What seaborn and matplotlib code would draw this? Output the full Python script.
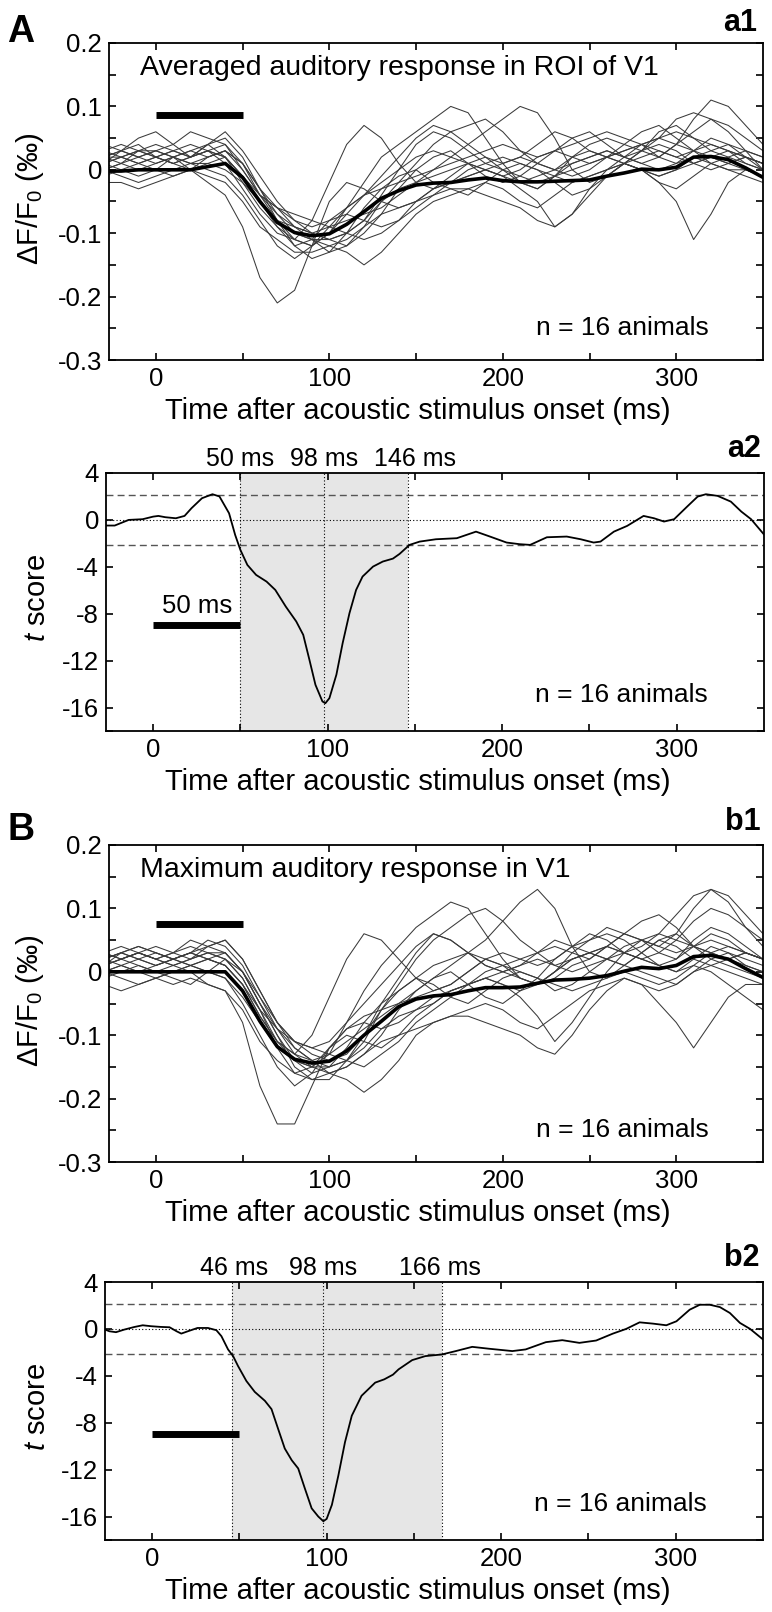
import numpy as np
import pandas as pd
import matplotlib
matplotlib.use('Agg')
import matplotlib.pyplot as plt
import matplotlib.transforms as mtransforms
import seaborn as sns

sns.set_theme(style='ticks', rc={'axes.edgecolor': 'black', 'text.color': 'black',
                                 'axes.labelcolor': 'black', 'xtick.color': 'black',
                                 'ytick.color': 'black'})
plt.rcParams['font.family'] = ['Liberation Sans', 'DejaVu Sans']
plt.rcParams['mathtext.fontset'] = 'custom'
plt.rcParams['mathtext.rm'] = 'Liberation Sans'
plt.rcParams['mathtext.it'] = 'Liberation Sans:italic'

########
# Data #
########
# time grid of the single-animal traces (ms)
time_ms = list(range(-30, 351, 10))

# a1: averaged response in ROI of V1, one trace per animal (dF/F0, per mille)
a1_traces = [
    [0.02, 0.03, 0.02, 0.01, 0.02, 0.03, 0.04, 0.02, -0.02, -0.06, -0.09, -0.11, -0.12, -0.10, -0.07, -0.04, -0.02, 0.00, 0.02, 0.03, 0.02, 0.01, 0.00, -0.01, 0.00, 0.02, 0.03, 0.02, 0.01, 0.02, 0.03, 0.04, 0.05, 0.06, 0.05, 0.03, 0.02, 0.01, 0.00],
    [0.01, 0.00, -0.01, 0.00, 0.02, 0.03, 0.02, 0.03, 0.01, -0.03, -0.08, -0.12, -0.14, -0.13, -0.10, -0.06, -0.03, -0.01, 0.00, -0.02, -0.03, -0.04, -0.02, 0.00, 0.01, 0.00, -0.02, -0.04, -0.03, -0.01, 0.01, 0.02, 0.03, 0.02, 0.01, 0.02, 0.03, 0.02, 0.01],
    [0.00, 0.01, 0.02, 0.03, 0.02, 0.00, -0.02, -0.04, -0.09, -0.17, -0.21, -0.19, -0.12, -0.05, -0.02, -0.03, -0.05, -0.06, -0.05, -0.03, -0.02, -0.01, 0.00, 0.01, 0.02, 0.01, 0.00, -0.01, 0.00, 0.02, 0.03, 0.04, 0.03, 0.02, 0.03, 0.04, 0.03, 0.02, 0.01],
    [0.03, 0.02, 0.01, 0.02, 0.03, 0.02, 0.03, 0.01, -0.03, -0.07, -0.10, -0.11, -0.08, -0.02, 0.04, 0.07, 0.05, 0.01, -0.02, -0.03, -0.01, 0.01, 0.02, 0.00, -0.02, -0.03, -0.01, 0.01, 0.02, 0.03, 0.02, 0.01, 0.00, 0.01, 0.03, 0.05, 0.04, 0.02, 0.00],
    [0.04, 0.03, 0.02, 0.03, 0.04, 0.06, 0.05, 0.04, 0.00, -0.04, -0.06, -0.08, -0.10, -0.11, -0.12, -0.09, -0.05, -0.02, 0.01, 0.04, 0.06, 0.07, 0.08, 0.06, 0.03, 0.01, 0.00, 0.01, 0.02, 0.03, 0.02, 0.01, 0.02, 0.04, 0.06, 0.08, 0.07, 0.05, 0.03],
    [-0.02, -0.02, -0.03, -0.02, -0.01, 0.00, -0.01, -0.02, -0.05, -0.09, -0.11, -0.13, -0.13, -0.12, -0.13, -0.15, -0.13, -0.10, -0.07, -0.05, -0.04, -0.03, -0.02, -0.03, -0.05, -0.06, -0.04, -0.02, -0.01, 0.00, 0.01, 0.00, -0.01, 0.00, 0.01, 0.02, 0.01, 0.00, -0.01],
    [0.01, 0.02, 0.03, 0.03, 0.02, 0.01, 0.02, 0.03, 0.00, -0.04, -0.08, -0.11, -0.12, -0.10, -0.06, -0.02, 0.02, 0.04, 0.06, 0.08, 0.10, 0.09, 0.05, 0.01, -0.02, -0.03, -0.01, 0.02, 0.04, 0.05, 0.04, 0.03, 0.02, 0.04, 0.08, 0.11, 0.10, 0.07, 0.04],
    [0.02, 0.03, 0.04, 0.02, 0.01, 0.02, 0.04, 0.05, 0.02, -0.03, -0.07, -0.10, -0.11, -0.12, -0.11, -0.09, -0.07, -0.06, -0.05, -0.04, -0.03, -0.03, -0.04, -0.05, -0.06, -0.08, -0.09, -0.07, -0.04, -0.01, 0.01, 0.00, -0.02, -0.05, -0.11, -0.07, -0.02, 0.00, -0.01],
    [0.00, 0.01, 0.03, 0.02, 0.01, 0.00, 0.01, 0.02, -0.01, -0.05, -0.08, -0.09, -0.10, -0.09, -0.08, -0.07, -0.06, -0.04, -0.02, 0.00, 0.02, 0.04, 0.06, 0.08, 0.10, 0.09, 0.05, 0.00, -0.02, -0.01, 0.01, 0.03, 0.04, 0.03, 0.01, 0.00, 0.01, 0.02, 0.01],
    [0.03, 0.04, 0.03, 0.02, 0.03, 0.04, 0.03, 0.02, -0.01, -0.05, -0.09, -0.12, -0.11, -0.08, -0.07, -0.08, -0.09, -0.08, -0.06, -0.04, -0.02, -0.01, 0.00, -0.01, -0.03, -0.05, -0.09, -0.07, -0.03, 0.00, 0.02, 0.04, 0.05, 0.04, 0.03, 0.02, 0.01, 0.02, 0.01],
    [-0.01, 0.00, 0.01, 0.02, 0.01, 0.02, 0.03, 0.04, 0.01, -0.04, -0.07, -0.09, -0.10, -0.11, -0.10, -0.08, -0.04, 0.00, 0.04, 0.06, 0.05, 0.03, 0.01, 0.00, -0.01, -0.02, -0.01, 0.00, 0.01, 0.02, 0.04, 0.06, 0.07, 0.05, 0.03, 0.01, 0.00, -0.01, -0.02],
    [0.02, 0.01, 0.00, 0.01, 0.02, 0.01, 0.00, -0.01, -0.04, -0.08, -0.12, -0.14, -0.12, -0.09, -0.06, -0.04, -0.03, -0.02, -0.01, 0.00, 0.01, 0.02, 0.03, 0.04, 0.03, 0.02, 0.03, 0.05, 0.06, 0.04, 0.02, 0.03, 0.05, 0.08, 0.09, 0.08, 0.06, 0.03, 0.00],
    [0.01, 0.03, 0.05, 0.06, 0.04, 0.02, 0.03, 0.02, -0.01, -0.04, -0.06, -0.07, -0.08, -0.09, -0.10, -0.11, -0.10, -0.08, -0.05, -0.03, -0.02, 0.00, 0.01, 0.02, 0.01, 0.00, -0.01, -0.02, -0.01, 0.00, 0.01, 0.00, -0.01, 0.00, 0.02, 0.03, 0.04, 0.03, 0.02],
    [0.00, -0.01, -0.02, -0.01, 0.00, 0.01, 0.01, 0.00, -0.02, -0.05, -0.08, -0.10, -0.11, -0.11, -0.10, -0.08, -0.05, -0.03, -0.02, -0.01, 0.00, 0.01, 0.00, -0.01, -0.02, -0.01, 0.00, 0.02, 0.03, 0.02, 0.01, 0.00, -0.02, -0.03, -0.01, 0.01, 0.02, 0.03, 0.02],
    [0.02, 0.02, 0.03, 0.04, 0.03, 0.02, 0.04, 0.06, 0.03, -0.01, -0.05, -0.08, -0.09, -0.08, -0.06, -0.04, -0.01, 0.02, 0.05, 0.07, 0.06, 0.04, 0.02, 0.01, 0.02, 0.04, 0.06, 0.05, 0.03, 0.02, 0.01, 0.03, 0.06, 0.07, 0.05, 0.04, 0.03, 0.01, 0.00],
    [0.01, 0.02, 0.01, 0.00, -0.01, 0.00, 0.02, 0.03, 0.01, -0.03, -0.06, -0.09, -0.11, -0.13, -0.12, -0.10, -0.07, -0.03, 0.00, 0.02, 0.03, 0.01, -0.01, -0.02, -0.01, 0.01, 0.03, 0.04, 0.05, 0.06, 0.05, 0.04, 0.02, 0.01, 0.02, 0.01, 0.00, 0.00, -0.01],
]
a1_mean = [-0.002, -0.002, 0.000, 0.000, 0.000, 0.000, 0.005, 0.010, -0.012, -0.050, -0.083, -0.099, -0.104, -0.101, -0.086, -0.066, -0.045, -0.033, -0.024, -0.021, -0.020, -0.016, -0.013, -0.017, -0.019, -0.019, -0.018, -0.017, -0.016, -0.010, -0.005, 0.001, 0.000, 0.004, 0.020, 0.021, 0.016, 0.003, -0.012]

# b1: maximum response in V1
b1_traces = [
    [0.02, 0.03, 0.02, 0.01, 0.02, 0.03, 0.02, 0.01, -0.02, -0.07, -0.11, -0.14, -0.16, -0.15, -0.12, -0.08, -0.05, -0.03, -0.01, 0.01, 0.02, 0.03, 0.02, 0.01, 0.02, 0.03, 0.04, 0.03, 0.02, 0.04, 0.06, 0.05, 0.03, 0.02, 0.04, 0.06, 0.05, 0.03, 0.02],
    [0.00, 0.01, 0.00, -0.01, 0.00, 0.01, 0.02, 0.03, 0.00, -0.05, -0.10, -0.15, -0.17, -0.17, -0.14, -0.10, -0.06, -0.03, -0.01, -0.02, -0.04, -0.05, -0.03, -0.01, 0.00, -0.01, -0.03, -0.02, 0.00, 0.02, 0.03, 0.02, 0.01, 0.00, 0.02, 0.04, 0.03, 0.01, 0.00],
    [0.01, 0.02, 0.03, 0.02, 0.01, 0.00, -0.02, -0.03, -0.08, -0.18, -0.24, -0.24, -0.18, -0.12, -0.09, -0.08, -0.09, -0.08, -0.06, -0.04, -0.03, -0.02, -0.01, 0.00, 0.01, 0.02, 0.01, 0.00, 0.01, 0.02, 0.04, 0.05, 0.04, 0.03, 0.04, 0.05, 0.04, 0.03, 0.02],
    [0.03, 0.02, 0.03, 0.02, 0.03, 0.04, 0.03, 0.02, -0.01, -0.06, -0.11, -0.13, -0.10, -0.04, 0.02, 0.06, 0.05, 0.02, -0.01, -0.03, -0.02, 0.00, 0.02, 0.01, -0.01, -0.02, 0.00, 0.02, 0.03, 0.04, 0.03, 0.02, 0.01, 0.02, 0.05, 0.07, 0.06, 0.04, 0.02],
    [0.03, 0.04, 0.03, 0.02, 0.03, 0.05, 0.04, 0.03, 0.00, -0.05, -0.09, -0.12, -0.14, -0.15, -0.14, -0.11, -0.06, -0.02, 0.02, 0.05, 0.07, 0.09, 0.10, 0.08, 0.05, 0.03, 0.01, 0.02, 0.03, 0.04, 0.03, 0.02, 0.03, 0.05, 0.08, 0.10, 0.09, 0.07, 0.05],
    [-0.02, -0.03, -0.02, -0.01, -0.02, -0.01, -0.02, -0.03, -0.06, -0.11, -0.14, -0.16, -0.17, -0.16, -0.17, -0.19, -0.17, -0.14, -0.10, -0.08, -0.07, -0.06, -0.05, -0.06, -0.08, -0.09, -0.07, -0.05, -0.03, -0.02, -0.01, -0.02, -0.03, -0.02, 0.00, 0.01, 0.00, -0.01, -0.02],
    [0.01, 0.02, 0.03, 0.02, 0.01, 0.02, 0.03, 0.03, 0.00, -0.05, -0.10, -0.14, -0.15, -0.13, -0.08, -0.03, 0.01, 0.04, 0.07, 0.09, 0.11, 0.10, 0.06, 0.02, -0.01, -0.02, 0.00, 0.03, 0.05, 0.07, 0.06, 0.05, 0.04, 0.06, 0.10, 0.13, 0.12, 0.09, 0.06],
    [0.02, 0.03, 0.02, 0.01, 0.02, 0.03, 0.05, 0.04, 0.01, -0.04, -0.09, -0.13, -0.15, -0.16, -0.15, -0.13, -0.11, -0.10, -0.09, -0.08, -0.07, -0.07, -0.08, -0.09, -0.10, -0.12, -0.13, -0.10, -0.06, -0.03, -0.01, -0.02, -0.05, -0.08, -0.12, -0.08, -0.04, -0.02, -0.02],
    [0.00, 0.01, 0.02, 0.03, 0.02, 0.01, 0.02, 0.01, -0.02, -0.07, -0.11, -0.13, -0.14, -0.13, -0.11, -0.09, -0.07, -0.05, -0.03, -0.01, 0.01, 0.03, 0.05, 0.08, 0.11, 0.13, 0.10, 0.04, 0.00, -0.01, 0.01, 0.03, 0.05, 0.04, 0.02, 0.01, 0.02, 0.03, 0.02],
    [0.03, 0.02, 0.03, 0.04, 0.03, 0.02, 0.03, 0.02, -0.01, -0.06, -0.12, -0.16, -0.15, -0.12, -0.10, -0.11, -0.12, -0.10, -0.07, -0.05, -0.03, -0.02, -0.01, -0.02, -0.04, -0.07, -0.11, -0.08, -0.04, 0.00, 0.03, 0.05, 0.06, 0.05, 0.04, 0.03, 0.02, 0.03, 0.02],
    [-0.01, 0.00, 0.01, 0.00, 0.01, 0.02, 0.04, 0.05, 0.02, -0.03, -0.08, -0.11, -0.13, -0.14, -0.13, -0.10, -0.05, -0.01, 0.03, 0.06, 0.05, 0.03, 0.01, 0.00, -0.01, -0.02, -0.01, 0.01, 0.02, 0.04, 0.06, 0.08, 0.09, 0.07, 0.04, 0.02, 0.01, 0.00, -0.01],
    [0.02, 0.01, 0.00, 0.01, 0.02, 0.01, 0.00, -0.01, -0.05, -0.10, -0.15, -0.18, -0.16, -0.12, -0.09, -0.07, -0.06, -0.05, -0.04, -0.03, -0.02, 0.00, 0.02, 0.03, 0.02, 0.01, 0.02, 0.04, 0.06, 0.05, 0.03, 0.04, 0.06, 0.09, 0.12, 0.13, 0.11, 0.07, 0.04],
    [0.01, 0.03, 0.04, 0.03, 0.02, 0.03, 0.02, 0.01, -0.02, -0.06, -0.09, -0.11, -0.12, -0.13, -0.14, -0.15, -0.13, -0.11, -0.08, -0.06, -0.04, -0.02, 0.00, 0.01, 0.00, -0.01, -0.02, -0.03, -0.02, -0.01, 0.00, -0.01, -0.02, -0.01, 0.01, 0.03, 0.04, 0.03, 0.02],
    [0.00, -0.01, -0.02, -0.01, 0.00, 0.01, 0.00, -0.01, -0.04, -0.08, -0.12, -0.14, -0.15, -0.15, -0.14, -0.12, -0.09, -0.07, -0.06, -0.05, -0.03, -0.02, -0.01, -0.02, -0.03, -0.02, 0.00, 0.02, 0.03, 0.02, 0.01, 0.00, -0.01, -0.02, 0.00, 0.02, 0.03, 0.02, 0.01],
    [0.02, 0.03, 0.04, 0.03, 0.02, 0.03, 0.04, 0.05, 0.02, -0.03, -0.08, -0.11, -0.12, -0.11, -0.08, -0.05, -0.02, 0.01, 0.04, 0.06, 0.05, 0.03, 0.01, 0.00, 0.01, 0.03, 0.05, 0.04, 0.03, 0.02, 0.01, 0.03, 0.05, 0.06, 0.04, 0.03, 0.02, 0.01, 0.00],
    [0.01, 0.02, 0.01, 0.00, -0.01, -0.02, 0.00, 0.02, 0.00, -0.04, -0.08, -0.12, -0.14, -0.16, -0.15, -0.13, -0.10, -0.06, -0.03, -0.01, 0.00, -0.02, -0.04, -0.05, -0.03, -0.01, 0.02, 0.04, 0.05, 0.06, 0.05, 0.03, 0.01, 0.00, 0.01, 0.00, -0.02, -0.04, -0.06],
]
b1_mean = [0.000, 0.000, 0.000, 0.000, 0.000, 0.000, 0.000, 0.000, -0.030, -0.078, -0.118, -0.138, -0.144, -0.141, -0.125, -0.100, -0.078, -0.055, -0.043, -0.038, -0.036, -0.030, -0.025, -0.025, -0.024, -0.018, -0.013, -0.012, -0.010, -0.006, 0.001, 0.007, 0.005, 0.010, 0.024, 0.026, 0.020, 0.005, -0.009]

# a2 / b2: t score time courses
a2_time = [-28, -22, -14, -6, 0, 3, 7, 13, 18, 22, 28, 34, 38, 43.5, 47, 50, 54, 59, 65, 70, 76, 82, 86, 89.5, 93, 97, 98.7, 101, 105, 108.6, 112.5, 116.3, 120, 126, 131.6, 137.4, 141.2, 146.9, 152.7, 162, 174, 185, 193, 202.5, 210, 216, 225.6, 237, 245, 252.4, 256.3, 264, 271.6, 281, 287, 292.7, 298.5, 306, 312, 316.7, 323.4, 331, 337, 342.6, 350.2]
a2_tscore = [-0.48, -0.48, 0.0, 0.06, 0.28, 0.34, 0.23, 0.14, 0.34, 1.0, 1.85, 2.19, 2.0, 0.57, -1.28, -2.56, -3.84, -4.69, -5.26, -5.97, -7.39, -8.66, -9.8, -11.9, -14.06, -15.48, -15.63, -15.2, -13.2, -10.5, -7.95, -5.97, -4.83, -3.98, -3.55, -3.3, -2.9, -2.13, -1.85, -1.65, -1.56, -1.0, -1.42, -1.93, -2.07, -2.13, -1.48, -1.42, -1.65, -1.93, -1.85, -1.0, -0.51, 0.34, 0.14, -0.14, 0.06, 1.14, 1.99, 2.19, 2.05, 1.56, 0.71, 0.06, -1.28]
b2_time = [-28, -24.5, -20.7, -16, -10, -5.4, -0.6, 5, 10, 14, 16.7, 20.5, 26, 32, 36.8, 39.7, 43.5, 46.4, 49.2, 54, 58.8, 64.6, 68.4, 72.2, 76, 80, 83.7, 87.5, 91.4, 95.2, 98.1, 100, 103, 106.7, 110.5, 114.4, 120, 127.8, 133, 138, 141.2, 149, 156.5, 166, 174, 183.4, 193, 206.4, 214, 225.6, 235, 244.8, 254.4, 264, 271.6, 279.3, 287, 294.6, 300.4, 308, 313.8, 319.5, 325.3, 331, 336.8, 342.6, 350]
b2_tscore = [0.0, -0.2, -0.28, -0.06, 0.17, 0.31, 0.23, 0.17, 0.14, -0.2, -0.4, -0.2, 0.08, 0.08, -0.11, -0.62, -1.75, -2.32, -3.16, -4.44, -5.37, -6.13, -6.84, -8.53, -10.2, -11.2, -11.9, -13.6, -15.3, -16.0, -16.4, -16.2, -15.0, -12.5, -9.66, -7.4, -5.7, -4.58, -4.3, -3.9, -3.45, -2.66, -2.32, -2.18, -1.89, -1.53, -1.69, -1.89, -1.75, -1.13, -0.96, -1.19, -0.99, -0.4, 0.0, 0.56, 0.45, 0.31, 0.65, 1.64, 2.06, 2.06, 1.86, 1.36, 0.51, 0.0, -0.9]

# significance window: onset, peak, offset (ms)
a2_window = [50, 98, 146]
b2_window = [46, 98, 166]
t_crit = 2.13
stim_bar = [0, 50]

#############
# Functions #
#############
W, H = 772, 1612


def _add_axes_px(fig, x0, y0, x1, y1):
    """ Add an axes given its pixel box (left, top, right, bottom). """
    return fig.add_axes([x0 / W, 1 - y1 / H, (x1 - x0) / W, (y1 - y0) / H])


def _style_axes(ax, box, yticks, ylabels, ylabel, ylab_px):
    """ Ticks, limits and labels shared by all four panels. """
    x0, y0, x1, y1 = box
    ax.set_xlim(-27, 350)
    ax.set_xticks(list(range(0, 301, 50)))
    ax.set_xticklabels(['0', '', '100', '', '200', '', '300'])
    ax.set_yticks(yticks)
    ax.set_yticklabels(ylabels)
    ax.set_ylim(yticks[0], yticks[-1])
    ax.tick_params(direction='in', length=5, width=1.2, top=True, right=True,
                   labelsize=18.5, pad=5)
    for sp in ax.spines.values():
        sp.set_linewidth(1.3)
        sp.set_visible(True)
    ax.set_xlabel('Time after acoustic stimulus onset (ms)', fontsize=21, va='baseline')
    ax.xaxis.set_label_coords((418 - x0) / (x1 - x0), -59 / (y1 - y0))
    ax.set_ylabel(ylabel, fontsize=21)
    ax.yaxis.set_label_coords(-(x0 - ylab_px[0]) / (x1 - x0), (y1 - ylab_px[1]) / (y1 - y0))


def _traces_panel(ax, traces, mean, bar_y, title):
    rows = []
    for i, tr in enumerate(traces):
        for t, v in zip(time_ms, tr):
            rows.append({'animal': i, 'time': t, 'dff': v})
    df = pd.DataFrame(rows)
    sns.lineplot(data=df, x='time', y='dff', units='animal', estimator=None,
                 color='#3a3a3a', lw=0.75, ax=ax, legend=False)
    sns.lineplot(x=time_ms, y=mean, color='black', lw=2.6, ax=ax)
    ax.plot(stim_bar, [bar_y, bar_y], color='black', lw=5, solid_capstyle='butt')
    ax.text(-9, 0.15, title, fontsize=20.5, va='baseline')
    ax.text(219, -0.26, 'n = 16 animals', fontsize=19, va='baseline')


def _tscore_panel(ax, time, tscore, window, top_x, box, bar_label):
    ax.axvspan(window[0], window[2], color='#e6e6e6', lw=0, zorder=0)
    for x in window:
        ax.axvline(x, color='black', lw=0.8, ls=(0, (1, 2)), zorder=1)
    ax.axhline(0, color='black', lw=0.8, ls=(0, (1, 2)), zorder=1)
    for y in [t_crit, -t_crit]:
        ax.axhline(y, color='#555555', lw=1.0, ls=(0, (5, 3)), zorder=1)
    sns.lineplot(x=time, y=tscore, color='black', lw=1.3, ax=ax, sort=False)
    ax.plot(stim_bar, [-9, -9], color='black', lw=5, solid_capstyle='butt')
    if bar_label:
        ax.text(25, -7.95, '50 ms', fontsize=18.5, ha='center', va='baseline')
    ax.text(219, -15.5, 'n = 16 animals', fontsize=19, va='baseline')
    trans = mtransforms.blended_transform_factory(ax.transData, ax.transAxes)
    h = box[3] - box[1]
    for x, v in zip(top_x, window):
        ax.text(x, 1 + 7 / h, f'{v} ms', fontsize=18, ha='center', va='baseline',
                transform=trans)


#########
# Begin #
#########
fig = plt.figure(figsize=(W / 100, H / 100), dpi=100)

box_a1 = (109, 43, 763, 360)
box_a2 = (106, 473, 764, 731)
box_b1 = (109, 845, 763, 1162)
box_b2 = (105, 1282, 763, 1540)

dff_ticks = [-0.3, -0.25, -0.2, -0.15, -0.1, -0.05, 0, 0.05, 0.1, 0.15, 0.2]
dff_labels = ['-0.3', '', '-0.2', '', '-0.1', '', '0', '', '0.1', '', '0.2']
t_ticks = [-18, -16, -12, -8, -4, 0, 4]
t_labels = ['', '-16', '-12', '-8', '-4', '0', '4']
dff_label = r'$\mathregular{\Delta F/F_0}$ (‰)'
t_label = r'$t$ score'

ax1 = _add_axes_px(fig, *box_a1)
_traces_panel(ax1, a1_traces, a1_mean, 0.086, 'Averaged auditory response in ROI of V1')
_style_axes(ax1, box_a1, dff_ticks, dff_labels, dff_label, (46, 199))

ax2 = _add_axes_px(fig, *box_a2)
_tscore_panel(ax2, a2_time, a2_tscore, a2_window, [50, 98, 150], box_a2, True)
_style_axes(ax2, box_a2, t_ticks, t_labels, t_label, (51, 598))

ax3 = _add_axes_px(fig, *box_b1)
_traces_panel(ax3, b1_traces, b1_mean, 0.076, 'Maximum auditory response in V1')
_style_axes(ax3, box_b1, dff_ticks, dff_labels, dff_label, (46, 1001))

ax4 = _add_axes_px(fig, *box_b2)
_tscore_panel(ax4, b2_time, b2_tscore, b2_window, [47, 98, 165], box_b2, False)
_style_axes(ax4, box_b2, t_ticks, t_labels, t_label, (51, 1407))

# panel letters
fig.text(7 / W, 1 - 42 / H, 'A', fontsize=27, fontweight='bold', va='baseline')
fig.text(7 / W, 1 - 840 / H, 'B', fontsize=27, fontweight='bold', va='baseline')
for lab, xr, yb in [('a1', 757, 31), ('a2', 761, 457), ('b1', 761, 830), ('b2', 760, 1266)]:
    fig.text(xr / W, 1 - yb / H, lab, fontsize=22, fontweight='bold', ha='right', va='baseline')

fig.savefig('out.png', dpi=100)
